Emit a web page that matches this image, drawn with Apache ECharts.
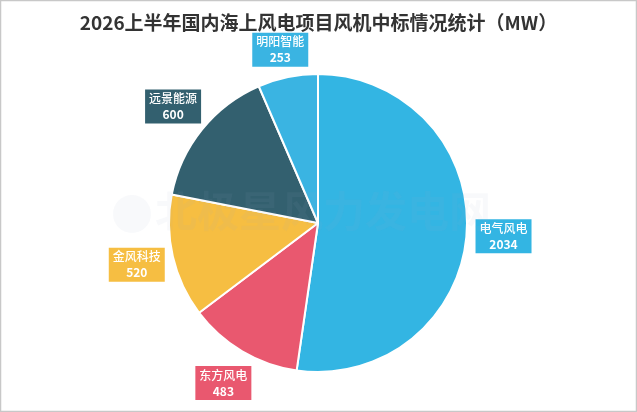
<!DOCTYPE html>
<html><head><meta charset="utf-8">
<script src="https://cdn.jsdelivr.net/npm/echarts@6/dist/echarts.min.js"></script>
<style>html,body{margin:0;padding:0;background:#fff}#c{width:637px;height:412px}</style>
</head><body><div id="c"></div>
<script>
const titleText = '2026上半年国内海上风电项目风机中标情况统计（MW）';
const categories = ['电气风电', '东方风电', '金风科技', '远景能源', '明阳智能'];
const values = [2034, 483, 520, 600, 253];
const colors = ['#33b5e3', '#e9586f', '#f6be42', '#33606f', '#3ab4e2'];

const chart = echarts.init(document.getElementById('c'));
const mainData = categories.map((n, i) => ({ name: n, value: values[i], itemStyle: { color: colors[i] } }));
const labelData = categories.map((n, i) => ({
  name: n, value: values[i],
  label: { backgroundColor: colors[i], offset: i === 4 ? [0, 9] : [0, 0] }
}));
chart.setOption({
  backgroundColor: '#fff',
  title: {
    text: titleText, left: 'center', top: 8,
    textStyle: { fontFamily: 'Noto Sans CJK SC', fontSize: 19, fontWeight: 'bold', color: '#333' }
  },
  graphic: [
    { type: 'rect', shape: { x: 0.5, y: 0.5, width: 636, height: 411 }, style: { fill: 'none', stroke: '#c8c8c8', lineWidth: 1.5 }, z: 100, silent: true },
    { type: 'circle', shape: { cx: 132, cy: 214, r: 19 }, style: { fill: 'rgba(160,175,195,0.07)' }, z: 100, silent: true },
    { type: 'text', left: 155, top: 190, z: 100, silent: true,
      style: { text: '北极星风力发电网', font: 'bold 42px "Noto Sans CJK SC"', fill: 'rgba(160,175,195,0.07)' } }
  ],
  series: [
    {
      type: 'pie', center: [318, 223], radius: 149, startAngle: 90, clockwise: true,
      data: mainData, label: { show: false }, labelLine: { show: false },
      itemStyle: { borderColor: '#fff', borderWidth: 2 }, silent: true
    },
    {
      type: 'pie', center: [318, 223], radius: [170, 196], startAngle: 90, clockwise: true,
      data: labelData, silent: true,
      itemStyle: { color: 'rgba(0,0,0,0)' },
      labelLine: { show: false },
      label: {
        show: true, position: 'inside', color: '#fff',
        fontFamily: 'Noto Sans CJK SC', fontSize: 12, fontWeight: 500, lineHeight: 16,
        padding: [1, 4, 1, 4],
        formatter: p => p.name + '\n{v|' + p.value + '}',
        rich: { v: { fontFamily: 'Noto Sans CJK SC', fontSize: 12, fontWeight: 'bold', color: '#fff', lineHeight: 16 } }
      }
    }
  ]
});
</script></body></html>
